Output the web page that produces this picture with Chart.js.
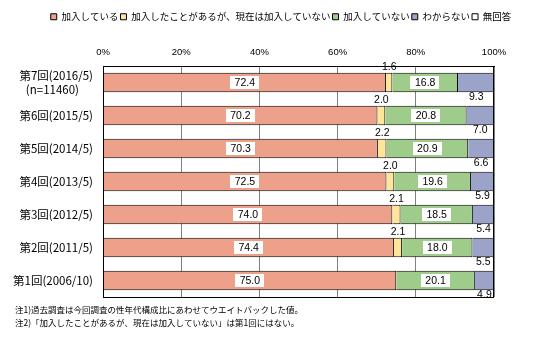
<!DOCTYPE html>
<html><head><meta charset="utf-8">
<script src="https://cdn.jsdelivr.net/npm/chart.js@4"></script>
<style>html,body{margin:0;padding:0;background:#fff;}</style>
</head><body>
<canvas id="c" width="534" height="343" style="display:block"></canvas>
<script>
// ---- data ----
const categories = [['第7回(2016/5)', '(n=11460)'], '第6回(2015/5)', '第5回(2014/5)', '第4回(2013/5)', '第3回(2012/5)', '第2回(2011/5)', '第1回(2006/10)'];
const seriesNames = ['加入している', '加入したことがあるが、現在は加入していない', '加入していない', 'わからない', '無回答'];
const joined    = [72.4, 70.2, 70.3, 72.5, 74.0, 74.4, 75.0];
const formerly  = [1.6, 2.0, 2.2, 2.0, 2.1, 2.1, null];
const notJoined = [16.8, 20.8, 20.9, 19.6, 18.5, 18.0, 20.1];
const unknown   = [9.3, 7.0, 6.6, 5.9, 5.4, 5.5, 4.9];
const noAnswer  = [0, 0, 0, 0, 0, 0, 0];
const xTicks = [0, 20, 40, 60, 80, 100];
const notes = ['注1)過去調査は今回調査の性年代構成比にあわせてウエイトバックした値。',
               '注2)「加入したことがあるが、現在は加入していない」は第1回にはない。'];

// ---- styles ----
const colors = ['#EDA18B', '#FFE599', '#9FCB8B', '#9BA3C8', '#FFFFFF'];
const labelModes = ['box', 'above', 'box', 'below', 'none'];
const JP = "'Noto Sans CJK JP', sans-serif";
Chart.defaults.font.family = JP;
Chart.defaults.color = '#000';

const seriesData = [joined, formerly, notJoined, unknown, noAnswer];
const datasets = seriesData.map((d, i) => ({
  label: seriesNames[i],
  data: d,
  backgroundColor: colors[i],
  borderColor: '#000',
  borderWidth: 1,
  borderSkipped: 'start',
  categoryPercentage: 1,
  barPercentage: 0.585
}));

const legendShift = {
  id: 'legendShift',
  afterUpdate(chart) {
    const l = chart.legend;
    if (l) { l.left += 34; l.right += 34; }
  }
};

const frameAndLabels = {
  id: 'frameAndLabels',
  afterDatasetsDraw(chart) {
    const ctx = chart.ctx;
    const a = chart.chartArea;
    ctx.save();
    ctx.strokeStyle = '#000';
    ctx.lineWidth = 1;
    ctx.strokeRect(Math.round(a.left) + 0.5, Math.round(a.top) + 0.5,
                   Math.round(a.right - a.left) - 1, Math.round(a.bottom - a.top));
    ctx.font = "10.5px 'Liberation Sans', sans-serif";
    ctx.textAlign = 'center';
    ctx.textBaseline = 'middle';
    chart.data.datasets.forEach((ds, di) => {
      const mode = labelModes[di];
      if (mode === 'none') return;
      const meta = chart.getDatasetMeta(di);
      meta.data.forEach((el, i) => {
        const v = ds.data[i];
        if (v === null || v === undefined || v === 0) return;
        const p = el.getProps(['x', 'y', 'base', 'height'], true);
        const cx = (p.x + p.base) / 2;
        const txt = v.toFixed(1);
        const top = p.y - p.height / 2, bot = p.y + p.height / 2;
        if (mode === 'box') {
          const w = ctx.measureText(txt).width + 9;
          const h = p.height - 6;
          ctx.fillStyle = '#fff';
          ctx.fillRect(Math.round(cx - w / 2), Math.round(p.y - h / 2), Math.round(w), Math.round(h));
          ctx.fillStyle = '#000';
          ctx.fillText(txt, cx, p.y + 0.5);
        } else if (mode === 'above') {
          ctx.fillStyle = '#000';
          ctx.fillText(txt, cx, top - 5.5);
        } else if (mode === 'below') {
          ctx.fillStyle = '#000';
          ctx.fillText(txt, cx, bot + 5);
        }
      });
    });
    ctx.restore();
  },
  afterDraw(chart) {
    const ctx = chart.ctx;
    ctx.save();
    ctx.font = "8.5px " + JP;
    ctx.fillStyle = '#000';
    ctx.textAlign = 'left';
    ctx.textBaseline = 'middle';
    notes.forEach((n, i) => ctx.fillText(n, 15, 310 + i * 13));
    ctx.restore();
  }
};

new Chart(document.getElementById('c'), {
  type: 'bar',
  data: { labels: categories, datasets },
  plugins: [legendShift, frameAndLabels],
  options: {
    indexAxis: 'y',
    responsive: false,
    animation: false,
    devicePixelRatio: 1,
    layout: { padding: { top: 10, left: 0, right: 40, bottom: 46 } },
    plugins: {
      legend: {
        position: 'top',
        labels: { boxWidth: 6, boxHeight: 6, padding: 2, font: { size: 9.5, family: JP }, color: '#000' }
      },
      tooltip: { enabled: false },
      title: { display: false }
    },
    scales: {
      x: {
        type: 'linear', position: 'top', stacked: true, min: 0, max: 100,
        afterBuildTicks(s) { s.ticks = xTicks.map(v => ({ value: v })); },
        afterFit(s) { s.height = 34.5; },
        ticks: { padding: 8, callback: v => v + '%', font: { size: 9.5, family: "'Liberation Sans Narrow', 'Liberation Sans', sans-serif" }, color: '#000' },
        grid: { color: '#808080', lineWidth: 1, drawTicks: false },
        border: { display: true, color: '#000' }
      },
      y: {
        type: 'category', stacked: true,
        afterFit(s) { s.width = 103; },
        ticks: {
          padding: 10, color: '#000',
          font: { size: 11.5, family: JP, lineHeight: 1.25 },
          callback(v, i) {
            const l = this.getLabelForValue(v);
            return Array.isArray(l) ? l.map(t => t.startsWith('(n') ? t + '\u3000 ' : t) : l;
          }
        },
        grid: { display: false, drawTicks: false },
        border: { display: true, color: '#000' }
      }
    }
  }
});
</script>
</body></html>
